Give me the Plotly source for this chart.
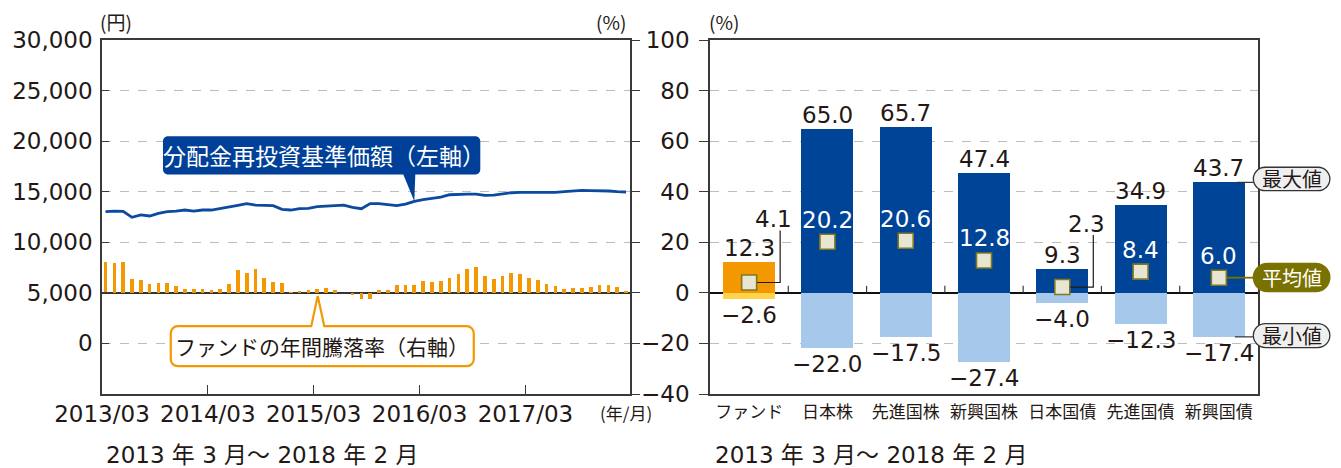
import plotly.graph_objects as go

# ---------------- data ----------------
months = [f"{2013 + (2 + i) // 12}/{(2 + i) % 12 + 1:02d}" for i in range(60)]  # 2013/03 .. 2018/02
year_ticks = ["2013/03", "2014/03", "2015/03", "2016/03", "2017/03"]

nav = [13030, 13090, 13060, 12470, 12700, 12600, 12860, 13030, 13090, 13190,
       13090, 13190, 13190, 13320, 13520, 13650, 13820, 13680, 13650, 13620,
       13260, 13190, 13320, 13360, 13520, 13590, 13620, 13680, 13450, 13320,
       13820, 13820, 13720, 13620, 13780, 14050, 14210, 14340, 14470, 14700,
       14770, 14770, 14770, 14640, 14670, 14800, 14900, 14930, 14930, 14870,
       14870, 14930, 15000, 15070, 15130, 15100, 15100, 15070, 15000, 14970]

fund_ret = [12.1, 11.7, 12.3, 5.4, 5.0, 3.4, 3.8, 3.8, 2.6, 1.5,
            1.5, 1.5, 1.1, 1.5, 3.4, 9.0, 7.8, 9.4, 5.8, 4.2,
            3.8, 0.3, 0.7, 1.1, 1.5, 1.8, 1.1, 0.0, -0.8, -2.6,
            -2.5, 1.1, 1.1, 3.0, 3.0, 3.0, 4.6, 4.2, 4.6, 5.8,
            7.4, 9.4, 10.2, 6.6, 5.4, 6.6, 7.8, 7.4, 5.8, 5.0,
            3.4, 2.6, 1.5, 1.8, 1.8, 2.2, 3.0, 3.0, 2.2, 0.7]

left_yticks = [0, 5000, 10000, 15000, 20000, 25000, 30000]

categories = ["ファンド", "日本株", "先進国株", "新興国株", "日本国債", "先進国債", "新興国債"]
max_vals = [12.3, 65.0, 65.7, 47.4, 9.3, 34.9, 43.7]
min_vals = [-2.6, -22.0, -17.5, -27.4, -4.0, -12.3, -17.4]
avg_vals = [4.1, 20.2, 20.6, 12.8, 2.3, 8.4, 6.0]
leader_cats = ["ファンド", "日本国債"]

period_text = "2013 年 3 月～ 2018 年 2 月"

# ---------------- style ----------------
FONT = "DejaVu Sans, Noto Sans CJK JP"
JP = "Noto Sans CJK JP"
BLACK = "#231815"
AX = "#3a3a3a"
GRID = "#BDBDBD"
ORANGE = "#F39800"
YELLOW = "#FFD448"
NAVY = "#004497"
LIGHT = "#A6C9EB"
LINEBLUE = "#0B4A9E"
BOXBLUE = "#004098"
OLIVE = "#7A7200"
MK_FILL = "#E8E5D2"
MK_LINE = "#7E7820"

# target plot frame in screen pixels (page has an 8px body margin)
OFF = 8
REF_L, REF_R, REF_T, REF_B = 102, 1258, 40, 394
W, H = 1341 - OFF, 468 - OFF
ML, MT = REF_L - OFF, REF_T - OFF
MR, MB = W - (REF_R - OFF), H - (REF_B - OFF)

X2_RANGE = [-0.5, 6.5]
Y3_RANGE = [-40, 100]


def px_x(px):
    return (px - REF_L) / (REF_R - REF_L)


def px_y(py):
    return (REF_B - py) / (REF_B - REF_T)


X2_DOMAIN = [px_x(710), 1]


def x2_paper(v):
    return X2_DOMAIN[0] + (v - X2_RANGE[0]) / (X2_RANGE[1] - X2_RANGE[0]) * (X2_DOMAIN[1] - X2_DOMAIN[0])


def y3_paper(v):
    return (v - Y3_RANGE[0]) / (Y3_RANGE[1] - Y3_RANGE[0])


def rrect(x0, y0, x1, y1, r, notch=None):
    """Rounded rectangle path in pixel offsets (y up). notch=(side, xa, xb, tx, ty)."""
    k = 0.5523 * r
    p = [f"M{x0 + r},{y1}"]
    if notch and notch[0] == "top":
        _, xa, xb, tx, ty = notch
        p += [f"L{xa},{y1}", f"L{tx},{ty}", f"L{xb},{y1}"]
    p.append(f"L{x1 - r},{y1}")
    p.append(f"C{x1 - r + k},{y1} {x1},{y1 - r + k} {x1},{y1 - r}")
    p.append(f"L{x1},{y0 + r}")
    p.append(f"C{x1},{y0 + r - k} {x1 - r + k},{y0} {x1 - r},{y0}")
    if notch and notch[0] == "bottom":
        _, xa, xb, tx, ty = notch
        p += [f"L{xb},{y0}", f"L{tx},{ty}", f"L{xa},{y0}"]
    p.append(f"L{x0 + r},{y0}")
    p.append(f"C{x0 + r - k},{y0} {x0},{y0 + r - k} {x0},{y0 + r}")
    p.append(f"L{x0},{y1 - r}")
    p.append(f"C{x0},{y1 - r + k} {x0 + r - k},{y1} {x0 + r},{y1}")
    p.append("Z")
    return " ".join(p)


x_idx = list(range(len(months)))
cat_idx = list(range(len(categories)))

fig = go.Figure()

# left chart
fig.add_trace(go.Bar(x=x_idx, y=fund_ret, xaxis="x", yaxis="y2", width=0.42,
                     marker=dict(color=ORANGE, line=dict(width=0)), showlegend=False))
fig.add_trace(go.Scatter(x=x_idx, y=nav, xaxis="x", yaxis="y", mode="lines",
                         line=dict(color=LINEBLUE, width=2.8), showlegend=False))

# right chart
fig.add_trace(go.Bar(x=cat_idx, y=max_vals, xaxis="x2", yaxis="y3", width=0.664,
                     marker=dict(color=[ORANGE] + [NAVY] * 6, line=dict(width=0)), showlegend=False))
fig.add_trace(go.Bar(x=cat_idx, y=min_vals, xaxis="x2", yaxis="y3", width=0.664,
                     marker=dict(color=[YELLOW] + [LIGHT] * 6, line=dict(width=0)), showlegend=False))
fig.add_trace(go.Scatter(x=cat_idx, y=avg_vals, xaxis="x2", yaxis="y3", mode="markers",
                         marker=dict(symbol="square", size=15, color=MK_FILL,
                                     line=dict(color=MK_LINE, width=1.6)),
                         cliponaxis=False, showlegend=False))

shapes = []
annos = []

# zero-line category ticks on right chart
for i in range(len(categories) - 1):
    shapes.append(dict(type="line", xref="x2", yref="y3", x0=i + 0.5, x1=i + 0.5,
                       ysizemode="pixel", yanchor=0, y0=0, y1=7,
                       line=dict(color=AX, width=1.2)))

# data labels right chart
for i, c in enumerate(categories):
    annos.append(dict(x=i, y=max_vals[i], xref="x2", yref="y3", text=f"{max_vals[i]:.1f}",
                      showarrow=False, yanchor="bottom", yshift=-1,
                      font=dict(family=FONT, size=23, color=BLACK)))
    annos.append(dict(x=i, y=min_vals[i], xref="x2", yref="y3",
                      text=f"−{abs(min_vals[i]):.1f}",
                      showarrow=False, yanchor="top", yshift=-1,
                      font=dict(family=FONT, size=23, color=BLACK)))
    if c in leader_cats:
        annos.append(dict(x=i, y=avg_vals[i], xref="x2", yref="y3", text=f"{avg_vals[i]:.1f}",
                          showarrow=False, xanchor="right", yanchor="middle", xshift=45, yshift=63,
                          font=dict(family=FONT, size=23, color=BLACK)))
        shapes.append(dict(type="path", xref="x2", yref="y3", xsizemode="pixel", ysizemode="pixel",
                           xanchor=i, yanchor=avg_vals[i], path="M8,0 L31,0 L31,52",
                           line=dict(color=BLACK, width=1.2)))
    else:
        annos.append(dict(x=i, y=avg_vals[i], xref="x2", yref="y3", text=f"{avg_vals[i]:.1f}",
                          showarrow=False, yanchor="middle", yshift=22,
                          font=dict(family=FONT, size=23, color="white")))

# right-side key labels (attached to last category; paper refs so they are not clipped)
last = len(categories) - 1
key_specs = [
    ("最大値", max_vals[last], -8.3, 15.1, 18, "#EFEFEF", "#333333", BLACK, "#333333", 1.2),
    ("平均値", avg_vals[last], -14.0, 14.4, 8, OLIVE, OLIVE, "white", OLIVE, 1.8),
    ("最小値", min_vals[last], -10.7, 13.3, 16, "#EFEFEF", "#333333", BLACK, "#333333", 1.2),
]
for text, yv, yb, yt, lx, fill, border, tcol, lcol, lw in key_specs:
    ax_p, ay_p = x2_paper(last), y3_paper(yv)
    shapes.append(dict(type="path", xref="paper", yref="paper", xsizemode="pixel", ysizemode="pixel",
                       xanchor=ax_p, yanchor=ay_p, path=f"M{lx},0 L35,0",
                       line=dict(color=lcol, width=lw)))
    h = yt - yb
    shapes.append(dict(type="path", xref="paper", yref="paper", xsizemode="pixel", ysizemode="pixel",
                       xanchor=ax_p, yanchor=ay_p, path=rrect(34.5, yb, 111, yt, h / 2),
                       fillcolor=fill, line=dict(color=border, width=1.3)))
    annos.append(dict(x=ax_p, y=ay_p, xref="paper", yref="paper", text=text, showarrow=False,
                      xanchor="center", yanchor="middle",
                      xshift=72.8, yshift=(yb + yt) / 2,
                      font=dict(family=JP, size=20, color=tcol)))

# left chart callouts
ia = months.index("2016/02")
shapes.append(dict(type="path", xref="x", yref="y", xsizemode="pixel", ysizemode="pixel",
                   xanchor=ia, yanchor=nav[ia],
                   path=rrect(-251.3, 26.7, 66, 65, 5, notch=("bottom", -11, 1, 0, 0)),
                   fillcolor=BOXBLUE, line=dict(width=0)))
annos.append(dict(x=ia, y=nav[ia], xref="x", yref="y", text="分配金再投資基準価額（左軸）",
                  showarrow=False, xshift=-90, yshift=46,
                  font=dict(family=JP, size=23, color="white")))

ib = months.index("2015/03")
shapes.append(dict(type="path", xref="x", yref="y2", xsizemode="pixel", ysizemode="pixel",
                   xanchor=ib, yanchor=0,
                   path=rrect(-146.5, -73.3, 156.5, -33.3, 7, notch=("top", -6, 7, 0.5, -3)),
                   fillcolor="white", line=dict(color=ORANGE, width=2.2)))
annos.append(dict(x=ib, y=0, xref="x", yref="y2", text="ファンドの年間騰落率（右軸）",
                  showarrow=False, xshift=5, yshift=-53,
                  font=dict(family=JP, size=21, color=BLACK)))

# unit labels and period texts
for txt, cx, cy, sz in [("(円)", 116, 22, 19), ("(%)", 611, 22, 19), ("(%)", 724, 22, 19),
                        ("(年/月)", 626, 412, 17)]:
    annos.append(dict(x=px_x(cx), y=px_y(cy), xref="paper", yref="paper", text=txt,
                      xanchor="center", yanchor="middle",
                      showarrow=False, font=dict(family=JP, size=sz, color=BLACK)))
for cx in (262, 871):
    annos.append(dict(x=px_x(cx), y=px_y(455), xref="paper", yref="paper", text=period_text,
                      xanchor="center", yanchor="middle",
                      showarrow=False, font=dict(family=FONT, size=23, color=BLACK)))

common_line = dict(showline=True, linecolor=AX, linewidth=1.5)

fig.update_layout(
    width=W, height=H, margin=dict(l=ML, r=MR, t=MT, b=MB, autoexpand=False),
    paper_bgcolor="white", plot_bgcolor="white",
    barmode="overlay", bargap=0, showlegend=False,
    font=dict(family=FONT, color=BLACK),
    xaxis=dict(domain=[0, px_x(630)], range=[-0.4, 59.45], anchor="y",
               tickmode="array", tickvals=[months.index(t) - 0.4 for t in year_ticks],
               ticktext=year_ticks, ticks="inside", ticklen=9, tickcolor=AX, tickwidth=1.3,
               showgrid=False, zeroline=False, mirror=True, ticklabelstandoff=-1,
               tickfont=dict(family=FONT, size=23, color=BLACK), **common_line),
    yaxis=dict(domain=[0, 1], range=[-5000, 30000], anchor="x",
               tickmode="array", tickvals=left_yticks,
               tickformat=",", ticks="inside", ticklen=7, tickcolor=AX, tickwidth=1.3,
               showgrid=True, gridcolor=GRID, griddash="dash", gridwidth=1, zeroline=False,
               ticklabelstandoff=3, tickfont=dict(family=FONT, size=23, color=BLACK), **common_line),
    yaxis2=dict(overlaying="y", side="right", anchor="x", range=[-40, 100], tick0=0, dtick=20,
                showticklabels=False, ticks="outside", ticklen=8, tickcolor=AX, tickwidth=1.3,
                showgrid=False, zeroline=True, zerolinecolor="#333333", zerolinewidth=1.6,
                **common_line),
    xaxis2=dict(domain=X2_DOMAIN, range=X2_RANGE, anchor="y3",
                tickmode="array", tickvals=cat_idx, ticktext=categories, ticks="",
                showgrid=False, zeroline=False, mirror=True, ticklabelstandoff=2,
                tickfont=dict(family=JP, size=17, color=BLACK), **common_line),
    yaxis3=dict(domain=[0, 1], range=Y3_RANGE, anchor="x2", tick0=0, dtick=20,
                ticks="outside", ticklen=9, tickcolor=AX, tickwidth=1.3, mirror=True,
                showgrid=True, gridcolor=GRID, griddash="dash", gridwidth=1,
                zeroline=True, zerolinecolor="#111111", zerolinewidth=1.6,
                ticklabelstandoff=5, tickfont=dict(family=FONT, size=23, color=BLACK), **common_line),
    shapes=shapes, annotations=annos,
)

fig.write_html("out.html")
